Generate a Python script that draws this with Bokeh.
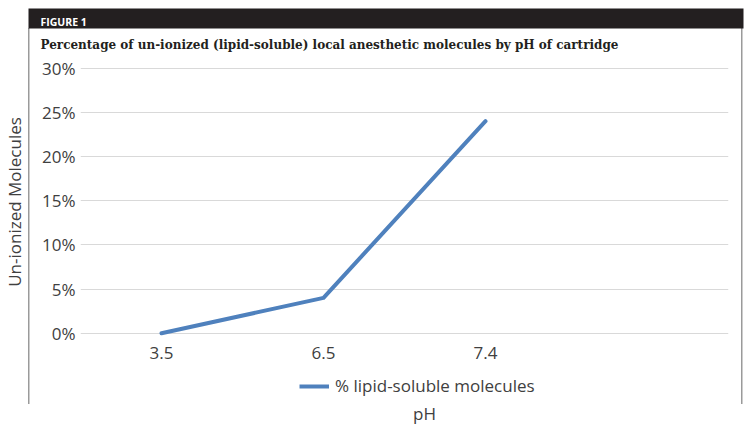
from bokeh.plotting import figure
from bokeh.layouts import column
from bokeh.models import (FactorRange, Range1d, FixedTicker, NumeralTickFormatter,
                          Legend, LegendItem, Label, BoxAnnotation, ColumnDataSource)
from bokeh.embed import file_html
from bokeh.resources import INLINE

# ---- data ----
figure_tag = "FIGURE 1"
chart_title = "Percentage of un-ionized (lipid-soluble) local anesthetic molecules by pH of cartridge"
x_title = "pH"
y_title = "Un-ionized Molecules"
series_name = "% lipid-soluble molecules"
categories = ["3.5", "6.5", "7.4", " "]
ph_values = ["3.5", "6.5", "7.4"]
unionized = [0.0, 0.04, 0.24]
y_ticks = [0.0, 0.05, 0.10, 0.15, 0.20, 0.25, 0.30]

TEXT = "#404040"
DARK = "#231f20"
RULE = "#9a9a9a"
BLUE = "#4F81BD"
FONT = "Open Sans"
FS = "17px"
W = 750
H_TOP, H_MAIN, H_BOT = 56, 310, 66


def no_align(f):
    if "frame_align" in f.properties():
        f.frame_align = False


def blank_fig(h):
    f = figure(width=W, height=h, x_range=Range1d(0, W), y_range=Range1d(h, 0),
               x_axis_type=None, y_axis_type=None, output_backend="svg",
               toolbar_location=None, min_border=0)
    f.title = None
    f.outline_line_color = None
    f.grid.visible = False
    f.background_fill_alpha = 0
    f.border_fill_alpha = 0
    no_align(f)
    return f


# ---- header: tag bar + title ----
top = blank_fig(H_TOP)
top.add_layout(BoxAnnotation(left=28, right=743, top=8, bottom=28,
                             fill_color=DARK, fill_alpha=1, line_color=None))
top.add_layout(Label(x=40, y=21.5, text=figure_tag, text_font=FONT,
                     text_font_size="10.5px", text_font_style="bold",
                     text_color="white", text_baseline="alphabetic"))
top.add_layout(Label(x=40, y=44, text=chart_title, text_font="DejaVu Serif",
                     text_font_size="12px", text_font_style="bold",
                     text_color=DARK, text_baseline="alphabetic"))

# ---- main chart ----
p = figure(width=W, height=H_MAIN,
           x_range=FactorRange(factors=categories, range_padding=0),
           y_range=Range1d(-0.006, 0.303),
           output_backend="svg", toolbar_location=None,
           min_border_left=77, min_border_right=22,
           min_border_top=65 - H_TOP, min_border_bottom=26)
no_align(p)
p.title = None
p.outline_line_color = None
p.background_fill_color = "white"
p.border_fill_alpha = 0

for ax in (p.xaxis, p.yaxis):
    ax.axis_line_color = None
    ax.major_tick_line_color = None
    ax.minor_tick_line_color = None
    ax.major_tick_in = 0
    ax.major_tick_out = 0
    ax.minor_tick_in = 0
    ax.minor_tick_out = 0
    ax.major_label_text_font = FONT
    ax.major_label_text_font_size = FS
    ax.major_label_text_color = TEXT
p.xaxis.major_label_standoff = 2
p.yaxis.major_label_standoff = 5
p.yaxis.ticker = FixedTicker(ticks=y_ticks)
p.yaxis.formatter = NumeralTickFormatter(format="0%")
p.yaxis.axis_label = y_title
p.yaxis.axis_label_standoff = 13
p.yaxis.axis_label_text_font = FONT
p.yaxis.axis_label_text_font_size = FS
p.yaxis.axis_label_text_font_style = "normal"
p.yaxis.axis_label_text_color = TEXT
p.xgrid.grid_line_color = None
p.ygrid.grid_line_color = "#d9d9d9"
p.ygrid.grid_line_width = 1

src = ColumnDataSource(dict(ph=ph_values, v=unionized))
p.line(x="ph", y="v", source=src, line_color=BLUE, line_width=4,
       line_cap="round", line_join="round")

# ---- bottom: legend + x title ----
bot = blank_fig(H_BOT)
nan = float("nan")
key = bot.line(x=[nan], y=[nan], line_color=BLUE, line_width=4, line_cap="butt")
legend = Legend(items=[LegendItem(label=series_name, renderers=[key])],
                location=(299, 35), orientation="horizontal",
                glyph_width=30, glyph_height=20, label_standoff=6,
                padding=3, margin=0, border_line_color=None,
                background_fill_alpha=0,
                label_text_font=FONT, label_text_font_size=FS,
                label_text_color=TEXT)
bot.add_layout(legend, "center")
bot.add_layout(Label(x=424, y=47, text=x_title, text_align="center",
                     text_baseline="alphabetic", text_font=FONT,
                     text_font_size=FS, text_color=TEXT))

# side rules of the figure panel, drawn behind all three parts
rules_css = {
    "background-color": "white",
    "background-image": f"linear-gradient({RULE},{RULE}), linear-gradient({RULE},{RULE})",
    "background-position": "27.5px 28px, 741px 28px",
    "background-size": "1.5px 376px, 1.5px 376px",
    "background-repeat": "no-repeat",
}
layout = column(top, p, bot, spacing=0, styles=rules_css)
open("out.html", "w").write(file_html(layout, INLINE))
